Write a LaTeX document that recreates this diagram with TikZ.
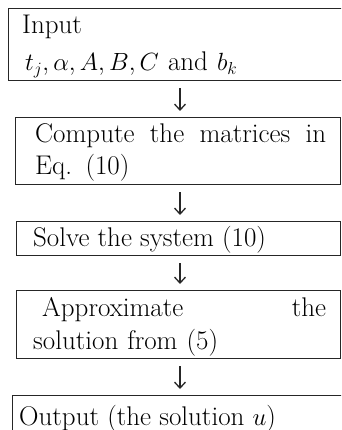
\documentclass[tikz,border=0pt]{standalone}
\usepackage{fontspec}
\usetikzlibrary{arrows.meta, positioning, calc}
\definecolor{boxLine}{HTML}{262626}

\begin{document}
\begin{tikzpicture}[x=1pt, y=-1pt,
stepbox/.style={
draw=boxLine,
line width=1.3pt,
rectangle,
inner sep=0pt,
anchor=north west
},
steptext/.style={
anchor=base west,
inner sep=0pt,
align=left,
font=\fontsize{27}{33}\selectfont\addfontfeatures{FakeStretch=1.12}
},
arrow/.style={-{Straight Barb[length=6pt,width=11pt]}, line width=1.3pt, boxLine, shorten <=7pt, shorten >=6pt}
]

\useasboundingbox (0,0) rectangle (341,430);
\clip (0,0) rectangle (341,430);

\coordinate (axis) at (180,0);

\node[stepbox, minimum width=380pt, minimum height=72pt] (input) at (8,8) {};
\node[stepbox, minimum width=325pt, minimum height=67pt] (compute) at (15,117) {};
\node[stepbox, minimum width=324pt, minimum height=34pt] (solve) at (16,221) {};
\node[stepbox, minimum width=324pt, minimum height=68pt] (approx) at (16,290) {};
\node[stepbox, minimum width=380pt, minimum height=60pt] (output) at (12,395) {};

\node[steptext, text width=300pt, font=\fontsize{27}{37}\selectfont\addfontfeatures{FakeStretch=1.12}] (inputText)
at ($(input.north west)+(14,26)$)
{Input\\\hspace*{3pt}$t_j, \alpha, A, B, C$ and $b_k$};

\node[steptext, text width=291pt, font=\fontsize{27}{32}\selectfont\addfontfeatures{FakeStretch=1.12}] (computeText)
at ($(compute.north west)+(20,26)$)
{\makebox[\linewidth][l]{Compute\hfill the\hfill matrices\hfill in}\\Eq. (10)};

\node[steptext] (solveText) at ($(solve.north west)+(17,25)$)
{Solve the system (10)};

\node[steptext, text width=293pt] (approxText)
at ($(approx.north west)+(17,26)$)
{\makebox[\linewidth][l]{\hspace{9pt}Approximate\hfill the}\\solution from (5)};

\node[steptext] (outputText) at ($(output.north west)+(7,30)$)
{Output (the solution $u$)};

\draw[arrow] (input.south -| axis) -- (compute.north -| axis);
\draw[arrow] (compute.south -| axis) -- (solve.north -| axis);
\draw[arrow] (solve.south -| axis) -- (approx.north -| axis);
\draw[arrow] (approx.south -| axis) -- (output.north -| axis);

\end{tikzpicture}
\end{document}
